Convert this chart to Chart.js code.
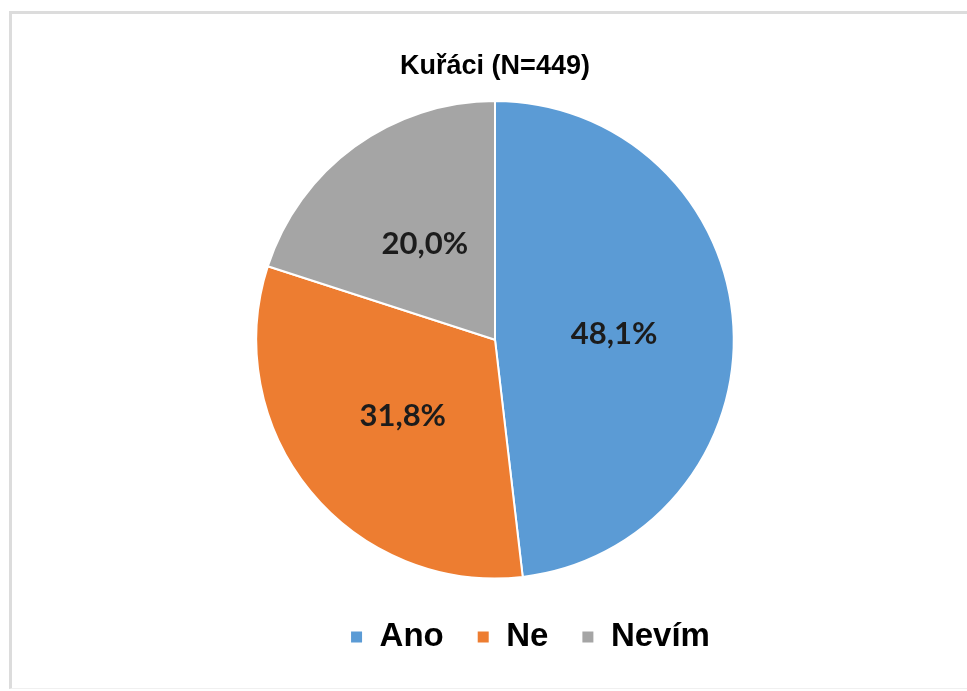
<!DOCTYPE html>
<html>
<head>
<meta charset="utf-8">
<script src="https://cdn.jsdelivr.net/npm/chart.js@4/dist/chart.umd.min.js"></script>
<style>
  html, body { margin: 0; padding: 0; background: #fff; width: 967px; height: 691px; overflow: hidden; }
  #frame {
    position: absolute; left: 9px; top: 11px; width: 970px; height: 674px;
    border-left: 3px solid #dcdcdc; border-top: 3px solid #dcdcdc; border-bottom: 1px solid #f0f0f0;
  }
  #wrap { position: absolute; left: 23px; top: 0; width: 944px; height: 691px; }
</style>
</head>
<body>
<div id="frame"></div>
<div id="wrap"><canvas id="pieChart"></canvas></div>
<script>
const title = 'Kuřáci (N=449)';
const categories = ['Ano', 'Ne', 'Nevím'];
const shares = [48.1, 31.8, 20.0];
const colors = ['#5B9BD5', '#ED7D31', '#A5A5A5'];

// percent labels in the middle of each slice
const sliceLabels = {
  id: 'sliceLabels',
  afterDatasetsDraw(chart) {
    const ctx = chart.ctx;
    const meta = chart.getDatasetMeta(0);
    ctx.save();
    ctx.font = 'bold 31px Lato, "Open Sans", sans-serif';
    ctx.fillStyle = '#1c1c1c';
    ctx.textAlign = 'center';
    ctx.textBaseline = 'middle';
    meta.data.forEach((arc, i) => {
      const p = arc.tooltipPosition();
      ctx.fillText(shares[i].toFixed(1).replace('.', ',') + '%', p.x, p.y + 1);
    });
    ctx.restore();
  }
};

// legend sits a bit right of the pie in the original
const legendNudge = {
  id: 'legendNudge',
  afterLayout(chart) {
    const lg = chart.legend;
    lg.left += 35; lg.right += 35;
    lg.top += 8; lg.bottom += 8;
  }
};

const ctx = document.getElementById('pieChart').getContext('2d');
new Chart(ctx, {
  type: 'pie',
  data: {
    labels: categories,
    datasets: [{
      data: shares,
      backgroundColor: colors,
      borderColor: '#fff',
      borderWidth: 2
    }]
  },
  options: {
    responsive: true,
    maintainAspectRatio: false,
    animation: false,
    layout: { padding: { top: 0, bottom: 35.5 } },
    plugins: {
      title: {
        display: true,
        text: title,
        color: '#000',
        font: { family: '"Liberation Sans", Arial, sans-serif', size: 27, weight: 'bold' },
        padding: { top: 50, bottom: 17.6 }
      },
      legend: {
        position: 'bottom',
        labels: {
          color: '#000',
          boxWidth: 13,
          boxHeight: 13,
          padding: 33,
          font: { family: '"Liberation Sans", Arial, sans-serif', size: 33, weight: 'bold' }
        }
      },
      tooltip: { enabled: false }
    }
  },
  plugins: [sliceLabels, legendNudge]
});
</script>
</body>
</html>
